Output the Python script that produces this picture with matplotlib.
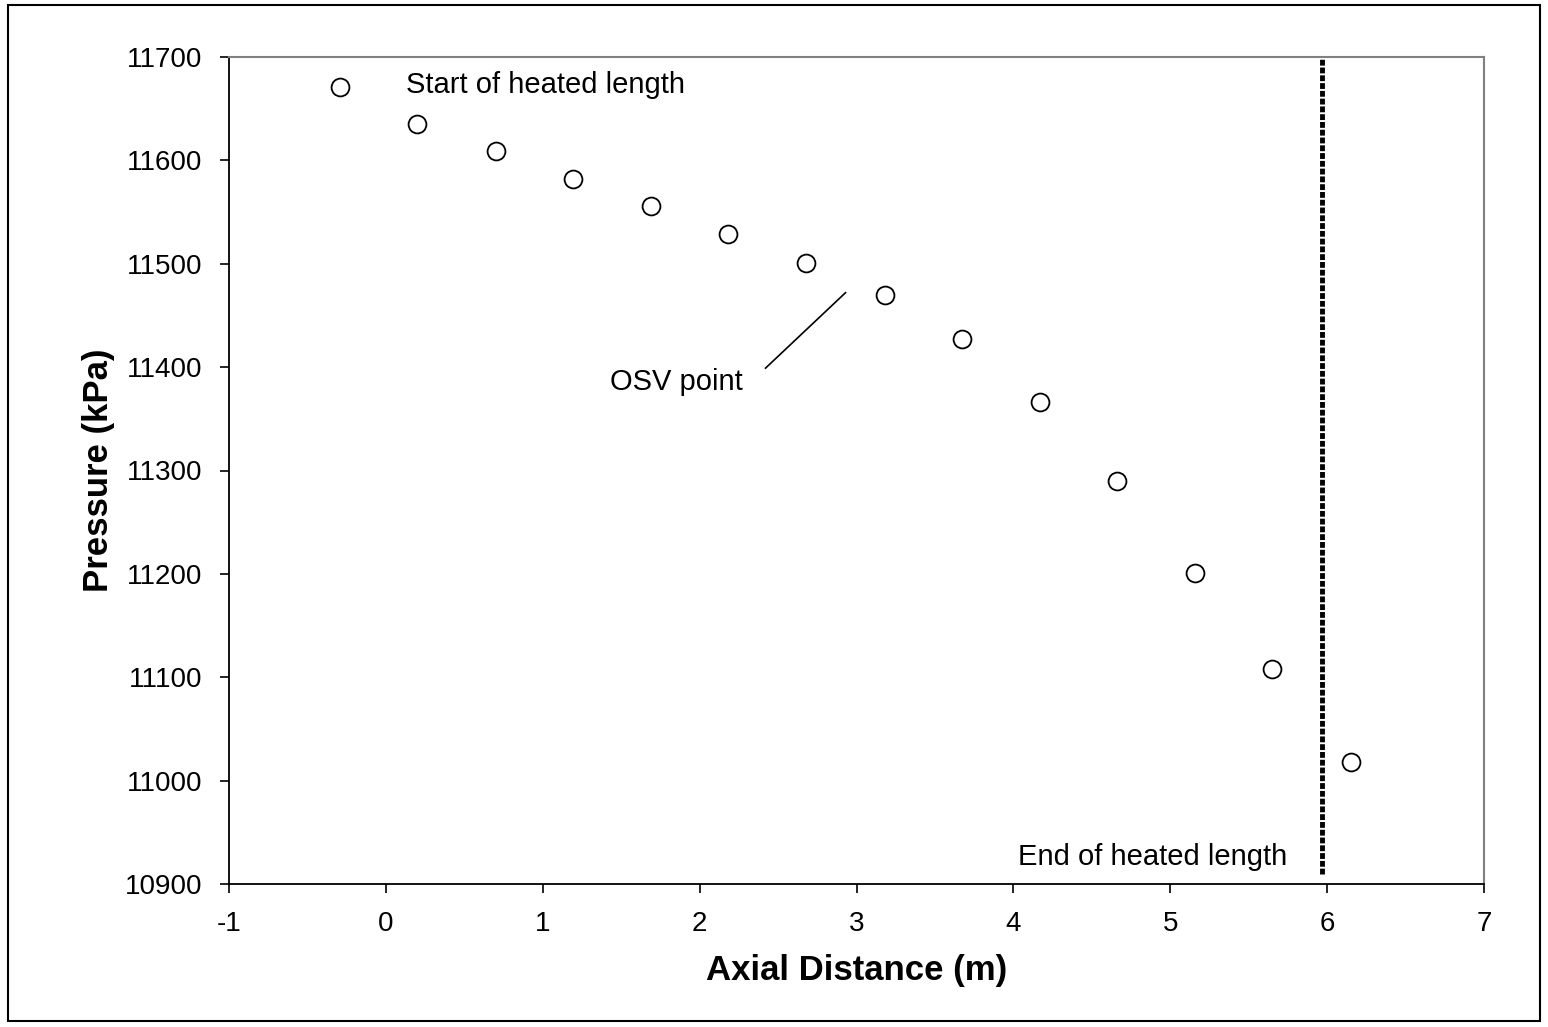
import matplotlib
matplotlib.use('Agg')
import matplotlib.pyplot as plt
from matplotlib.patches import Rectangle

plt.rcParams['font.family'] = ['Liberation Sans', 'DejaVu Sans']

# axial distance (m) and pressure (kPa)
distance = [-0.29, 0.20, 0.70, 1.19, 1.69, 2.18, 2.68, 3.18, 3.67, 4.17, 4.66, 5.16, 5.65, 6.15]
pressure = [11671, 11635, 11609, 11582, 11556, 11529, 11501, 11470, 11427, 11366, 11290, 11201, 11108, 11018]

end_heated = 5.97
x_ticks = [-1, 0, 1, 2, 3, 4, 5, 6, 7]
y_ticks = [10900, 11000, 11100, 11200, 11300, 11400, 11500, 11600, 11700]

fig = plt.figure(figsize=(15.48, 10.27), dpi=100)
ax = fig.add_axes([229 / 1548, 1 - 884 / 1027, (1484 - 229) / 1548, (884 - 57) / 1027])

ax.scatter(distance, pressure, s=165, facecolors='white', edgecolors='black', linewidths=1.3, zorder=3)
ax.plot([end_heated, end_heated], [10910, 11700], color='black', lw=3.5, ls=(0, (1.2, 0.4)), zorder=2)
ax.plot([2.42, 2.93], [11399, 11472], color='black', lw=1.2)

ax.text(0.13, 11673, 'Start of heated length', fontsize=21, va='center', ha='left')
ax.text(1.85, 11386, 'OSV point', fontsize=21, va='center', ha='center')
ax.text(4.03, 10926, 'End of heated length', fontsize=21, va='center', ha='left')

ax.set_xlim(-1, 7)
ax.set_ylim(10900, 11700)
ax.set_xticks(x_ticks)
ax.set_xticklabels([str(t) for t in x_ticks])
ax.set_yticks(y_ticks)
ax.set_yticklabels([str(t) for t in y_ticks])
ax.tick_params(direction='out', length=6.5, width=1.2, labelsize=20)
ax.tick_params(axis='x', pad=13)
ax.tick_params(axis='y', pad=13)
ax.set_xlabel('Axial Distance (m)', fontsize=25, fontweight='bold', labelpad=12)
ax.set_ylabel('Pressure (kPa)', fontsize=25, fontweight='bold', labelpad=7)

for side in ['left', 'bottom']:
    ax.spines[side].set_linewidth(1.3)
for side in ['top', 'right']:
    ax.spines[side].set_color('#808080')
    ax.spines[side].set_linewidth(1.5)

fig.patches.append(Rectangle((8 / 1548, 1 - 1021 / 1027), 1532 / 1548, 1016 / 1027,
                             transform=fig.transFigure, fill=False, edgecolor='black', lw=1.5))

fig.savefig('out.png', dpi=100)
